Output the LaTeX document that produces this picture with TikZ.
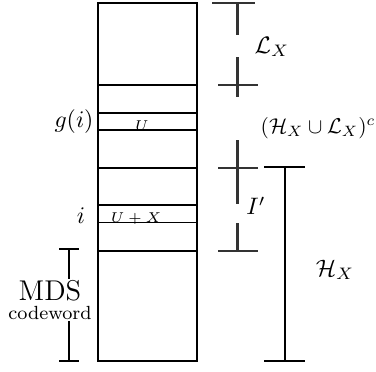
\documentclass[tikz,border=0pt]{standalone}
\usepackage{amsmath}
\usepackage{xcolor}
\usepackage{tikz}

\begin{document}
\begin{tikzpicture}[x=0.42pt, y=-0.42pt,
  thinrow/.style={black, line width=0.5pt},
  thickrow/.style={black, line width=1.1pt},
  marker/.style={black!80, line width=0.9pt},
  span/.style={black, line width=0.55pt}]
  \useasboundingbox (0,0) rectangle (376,371);
  % the codeword column
  \draw[thinrow] (98,3) rectangle (197,361);
  \foreach \yy in {85,168,251} \draw[thickrow] (98,\yy) -- (197,\yy);
  \foreach \yy in {113,130,205,222.7} \draw[thinrow] (98,\yy) -- (197,\yy);
  % row labels
  \node (gi) at (74,122) {$g(i)$};
  \node (ii) at (81,216) {$i$};
  \node (u) at (142,126) {\fontsize{6}{7}\selectfont $U$};
  \node (ux) at (136,218.5) {\fontsize{6}{7}\selectfont $U+X$};
  % MDS part, bracket split round its label
  \draw[span] (59,249) -- (79,249);
  \draw[span] (59,361) -- (79,361);
  \draw[span] (69,249) -- (69,279);
  \draw[span] (69,321) -- (69,361);
  \node[align=center, inner sep=0pt] (mds) at (50,300)
    {{\large MDS}\\[-4pt]{\footnotesize codeword}};
  % marks for L_X, the complement and I'
  \draw[marker] (212,3) -- (255,3);
  \foreach \yy in {85,168,251} \draw[marker] (218,\yy) -- (258,\yy);
  \foreach \ya/\yb in {3/35, 57/97, 140/204, 223/251}
    \draw[marker] (237.5,\ya) -- (237.5,\yb);
  \node (lx) at (272,47) {$\mathcal{L}_X$};
  \node[scale=0.9] (cmp) at (318,128) {$(\mathcal{H}_X\cup\mathcal{L}_X)^c$};
  \node (ip) at (256,206) {$I'$};
  % H_X bracket
  \draw[span] (264,167) -- (305,167);
  \draw[span] (264,361) -- (305,361);
  \draw[span] (285,167) -- (285,361);
  \node (hx) at (335,270) {$\mathcal{H}_X$};
\end{tikzpicture}
\end{document}
